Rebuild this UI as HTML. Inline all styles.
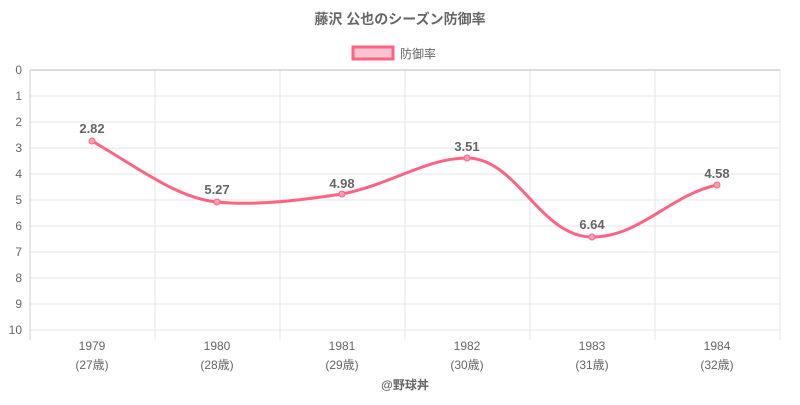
<!DOCTYPE html>
<html><head><meta charset="utf-8"><style>
body{margin:0;background:#fff;width:800px;height:400px;overflow:hidden}
text{font-family:"Liberation Sans","Noto Sans CJK JP",sans-serif}
</style></head><body>
<svg width="800" height="400" xmlns="http://www.w3.org/2000/svg">
<text x="400" y="24" text-anchor="middle" font-size="14" font-weight="bold" fill="#666">藤沢 公也のシーズン防御率</text>
<rect x="353" y="47" width="40" height="12" fill="#f7c4d0" stroke="#ff6384" stroke-width="3"/>
<text x="400" y="58" font-size="12" fill="#666">防御率</text>
<g stroke="#e5e5e5" stroke-width="1">
<line x1="30" y1="96" x2="780" y2="96"/><line x1="30" y1="122" x2="780" y2="122"/><line x1="30" y1="148" x2="780" y2="148"/><line x1="30" y1="174" x2="780" y2="174"/><line x1="30" y1="200" x2="780" y2="200"/><line x1="30" y1="226" x2="780" y2="226"/><line x1="30" y1="252" x2="780" y2="252"/><line x1="30" y1="278" x2="780" y2="278"/><line x1="30" y1="304" x2="780" y2="304"/><line x1="30" y1="330" x2="780" y2="330"/>
<line x1="155" y1="70" x2="155" y2="340"/><line x1="280" y1="70" x2="280" y2="340"/><line x1="405" y1="70" x2="405" y2="340"/><line x1="530" y1="70" x2="530" y2="340"/><line x1="655" y1="70" x2="655" y2="340"/><line x1="780" y1="70" x2="780" y2="340"/>
</g>
<line x1="30" y1="70" x2="780" y2="70" stroke="#bbb"/>
<line x1="30" y1="70" x2="30" y2="340" stroke="#ccc"/>
<g font-size="12" fill="#666" text-anchor="end">
<text x="22" y="74">0</text><text x="22" y="100">1</text><text x="22" y="126">2</text><text x="22" y="152">3</text><text x="22" y="178">4</text><text x="22" y="204">5</text><text x="22" y="230">6</text><text x="22" y="256">7</text><text x="22" y="282">8</text><text x="22" y="308">9</text><text x="22" y="334">10</text>
</g>
<g font-size="12" fill="#666" text-anchor="middle">
<text x="92" y="350">1979</text><text x="92" y="369">(27歳)</text>
<text x="217" y="350">1980</text><text x="217" y="369">(28歳)</text>
<text x="342" y="350">1981</text><text x="342" y="369">(29歳)</text>
<text x="467" y="350">1982</text><text x="467" y="369">(30歳)</text>
<text x="592" y="350">1983</text><text x="592" y="369">(31歳)</text>
<text x="717" y="350">1984</text><text x="717" y="369">(32歳)</text>
</g>
<path d="M92,141 C142,170 177,198 217,202 C257,206 302,200 342,194 C392,184 427,158 467,158 C517,158 540,237 592,237 C640,237 670,195 717,185" fill="none" stroke="#ff6384" stroke-width="3"/>
<g fill="#f7a0b3" stroke="#ff6384" stroke-width="1">
<circle cx="92" cy="141" r="3"/><circle cx="217" cy="202" r="3"/><circle cx="342" cy="194" r="3"/><circle cx="467" cy="158" r="3"/><circle cx="592" cy="237" r="3"/><circle cx="717" cy="185" r="3"/>
</g>
<g font-size="13" font-weight="bold" fill="#666" text-anchor="middle">
<text x="92" y="133">2.82</text><text x="217" y="194">5.27</text><text x="342" y="188">4.98</text><text x="467" y="151">3.51</text><text x="592" y="229">6.64</text><text x="717" y="178">4.58</text>
</g>
<text x="405" y="389" font-size="12" font-weight="bold" fill="#666" text-anchor="middle">@野球丼</text>
</svg>
</body></html>
